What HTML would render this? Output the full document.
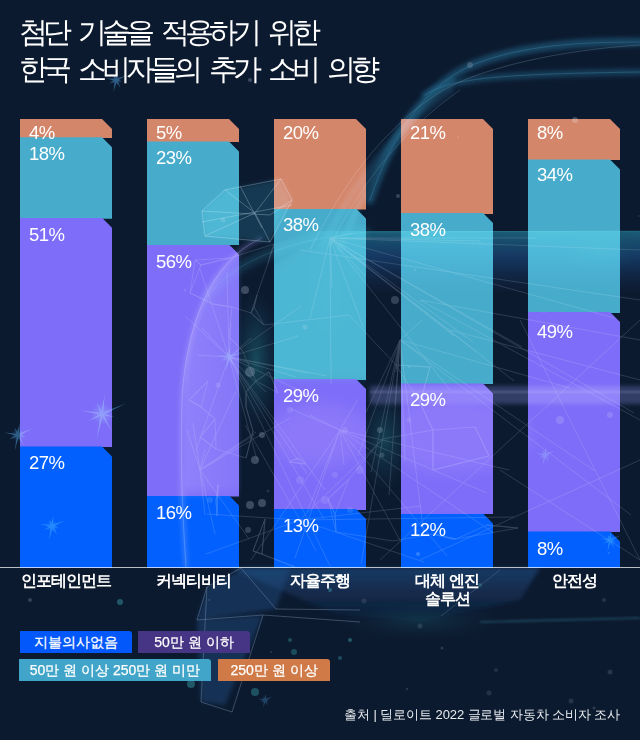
<!DOCTYPE html>
<html><head><meta charset="utf-8">
<style>
html,body{margin:0;padding:0;}
body{width:640px;height:740px;position:relative;overflow:hidden;background:#0c1a2f;font-family:"Liberation Sans",sans-serif;color:#fff;}
.a{position:absolute;}
#bg,#ov{position:absolute;left:0;top:0;width:640px;height:740px;}
#ov{mix-blend-mode:screen;}
.title{left:19px;top:14px;font-size:28.5px;line-height:37px;white-space:nowrap;letter-spacing:-5px;word-spacing:8px;}
.seg{position:absolute;width:92px;clip-path:polygon(0 0,82px 0,92px 10px,92px 100%,0 100%);}
.o{background:#d4866a;}
.t{background:#47abcb;}
.p{background:#7d6df8;}
.b{background:#0260fe;}
.pct{position:absolute;font-size:18.5px;line-height:18px;white-space:nowrap;letter-spacing:-0.5px;}
.cat{position:absolute;width:140px;text-align:center;font-size:16px;font-weight:bold;line-height:18px;letter-spacing:-1px;}
.lg{position:absolute;height:22px;font-size:14px;line-height:22px;text-align:center;border-top-right-radius:3px;white-space:nowrap;-webkit-text-stroke:0.25px #fff;}
.src{position:absolute;right:20px;top:705px;font-size:13px;line-height:20px;color:#e8ecf0;white-space:nowrap;letter-spacing:-0.1px;}
</style></head>
<body>

<div class="a title">첨단 기술을 적용하기 위한<br>한국 소비자들의 추가 소비 의향</div>
<div class="seg o" style="left:20px;top:119px;height:19.2px"></div>
<div class="seg t" style="left:20px;top:137.2px;height:81.5px"></div>
<div class="seg p" style="left:20px;top:217.7px;height:229.7px"></div>
<div class="seg b" style="left:20px;top:446.4px;height:121.6px"></div>
<div class="seg o" style="left:147px;top:119px;height:23.4px"></div>
<div class="seg t" style="left:147px;top:141.4px;height:104.1px"></div>
<div class="seg p" style="left:147px;top:244.5px;height:252.1px"></div>
<div class="seg b" style="left:147px;top:495.6px;height:72.4px"></div>
<div class="seg o" style="left:274px;top:119px;height:90.6px"></div>
<div class="seg t" style="left:274px;top:208.6px;height:171.4px"></div>
<div class="seg p" style="left:274px;top:379.0px;height:131.0px"></div>
<div class="seg b" style="left:274px;top:509.0px;height:59.0px"></div>
<div class="seg o" style="left:401px;top:119px;height:95.1px"></div>
<div class="seg t" style="left:401px;top:213.1px;height:171.3px"></div>
<div class="seg p" style="left:401px;top:383.4px;height:131.1px"></div>
<div class="seg b" style="left:401px;top:513.5px;height:54.5px"></div>
<div class="seg o" style="left:528px;top:119px;height:41.4px"></div>
<div class="seg t" style="left:528px;top:159.4px;height:153.6px"></div>
<div class="seg p" style="left:528px;top:312.0px;height:220.4px"></div>
<div class="seg b" style="left:528px;top:531.4px;height:36.6px"></div>

<div class="pct" style="left:29px;top:124px">4%</div>
<div class="pct" style="left:29px;top:144.75px">18%</div>
<div class="pct" style="left:29px;top:225.8px">51%</div>
<div class="pct" style="left:29px;top:453.5px">27%</div>
<div class="pct" style="left:156px;top:124px">5%</div>
<div class="pct" style="left:156px;top:148.9px">23%</div>
<div class="pct" style="left:156px;top:252.8px">56%</div>
<div class="pct" style="left:156px;top:503.5px">16%</div>
<div class="pct" style="left:283px;top:124px">20%</div>
<div class="pct" style="left:283px;top:216.3px">38%</div>
<div class="pct" style="left:283px;top:386.7px">29%</div>
<div class="pct" style="left:283px;top:516.8px">13%</div>
<div class="pct" style="left:410px;top:124px">21%</div>
<div class="pct" style="left:410px;top:220.8px">38%</div>
<div class="pct" style="left:410px;top:391.0px">29%</div>
<div class="pct" style="left:410px;top:521.3px">12%</div>
<div class="pct" style="left:537px;top:124px">8%</div>
<div class="pct" style="left:537px;top:166.3px">34%</div>
<div class="pct" style="left:537px;top:322.6px">49%</div>
<div class="pct" style="left:537px;top:539.7px">8%</div>

<svg id="ov" width="640" height="740" viewBox="0 0 640 740">
<defs>
<filter id="bl05" x="-20%" y="-20%" width="140%" height="140%"><feGaussianBlur stdDeviation="0.5"/></filter>
<filter id="bl1" x="-20%" y="-50%" width="140%" height="200%"><feGaussianBlur stdDeviation="1"/></filter>
<filter id="bl2" x="-20%" y="-50%" width="140%" height="200%"><feGaussianBlur stdDeviation="2"/></filter>
<filter id="bl4" x="-30%" y="-80%" width="160%" height="260%"><feGaussianBlur stdDeviation="4"/></filter>
<filter id="bl8" x="-50%" y="-50%" width="200%" height="200%"><feGaussianBlur stdDeviation="8"/></filter>
<filter id="bl14" x="-50%" y="-50%" width="200%" height="200%"><feGaussianBlur stdDeviation="14"/></filter>
<linearGradient id="band" x1="0" y1="0" x2="0" y2="1">
 <stop offset="0" stop-color="#104a55" stop-opacity="1"/>
 <stop offset="0.4" stop-color="#0c2e55" stop-opacity="0.75"/>
 <stop offset="1" stop-color="#0a2040" stop-opacity="0"/>
</linearGradient>
<linearGradient id="bandx" x1="0" y1="0" x2="1" y2="0">
 <stop offset="0" stop-color="#fff" stop-opacity="0"/>
 <stop offset="0.22" stop-color="#fff" stop-opacity="1"/>
 <stop offset="1" stop-color="#fff" stop-opacity="1"/>
</linearGradient>
<mask id="mx"><rect x="290" y="0" width="350" height="740" fill="url(#bandx)"/></mask>
<linearGradient id="headg" x1="0" y1="0" x2="1" y2="0">
 <stop offset="0" stop-color="#3a3a80" stop-opacity="0.0"/>
 <stop offset="0.05" stop-color="#40408a" stop-opacity="0.55"/>
 <stop offset="0.48" stop-color="#303a80" stop-opacity="0.3"/>
 <stop offset="0.52" stop-color="#102040" stop-opacity="0"/>
</linearGradient>
<radialGradient id="spk" cx="0.5" cy="0.5" r="0.5">
 <stop offset="0" stop-color="#4a90e0" stop-opacity="0.9"/>
 <stop offset="1" stop-color="#2a60b0" stop-opacity="0"/>
</radialGradient>
<radialGradient id="tealglow" cx="0.5" cy="0.5" r="0.5">
 <stop offset="0" stop-color="#145a5a" stop-opacity="0.8"/>
 <stop offset="1" stop-color="#0a3040" stop-opacity="0"/>
</radialGradient>
</defs>
<g mask="url(#mx)"><rect x="290" y="231" width="350" height="62" fill="url(#band)"/></g>
<path d="M205,300 C230,262 290,238 370,232" fill="none" stroke="#1a6070" stroke-width="6" opacity="0.55" filter="url(#bl4)"/>
<path d="M205,300 C230,262 290,238 370,232 L640,231" fill="none" stroke="#3a8aa0" stroke-width="1" opacity="0.25"/>
<ellipse cx="256" cy="360" rx="24" ry="70" fill="url(#tealglow)" opacity="0.75"/>
<ellipse cx="385" cy="440" rx="26" ry="50" fill="url(#tealglow)" opacity="0.6"/>
<ellipse cx="420" cy="620" rx="80" ry="20" fill="url(#tealglow)" opacity="0.35"/>
<ellipse cx="600" cy="250" rx="50" ry="25" fill="url(#tealglow)" opacity="0.4"/>
<ellipse cx="330" cy="300" rx="40" ry="60" fill="url(#tealglow)" opacity="0.3"/>
<rect x="370" y="386" width="290" height="18" fill="#5a5a98" opacity="0.45" filter="url(#bl2)"/><rect x="370" y="391" width="290" height="2" fill="#9090c8" opacity="0.3" filter="url(#bl1)"/>
<defs><clipPath id="bc"><rect x="20" y="119" width="92" height="448"/><rect x="147" y="119" width="92" height="448"/><rect x="274" y="119" width="92" height="448"/><rect x="401" y="119" width="92" height="448"/><rect x="528" y="119" width="92" height="448"/></clipPath></defs>
<g clip-path="url(#bc)"><ellipse cx="450" cy="435" rx="80" ry="38" fill="#3a2c80" opacity="0.5" filter="url(#bl8)"/><ellipse cx="320" cy="435" rx="50" ry="32" fill="#402c70" opacity="0.45" filter="url(#bl8)"/><path d="M250,290 C280,250 320,238 380,236 L380,379 L250,379 Z" fill="#0c3a48" opacity="0.6" filter="url(#bl4)"/></g>
<g fill="none" stroke-linecap="round">
<path d="M370,200 C395,125 430,85 470,66 C520,45 580,42 640,42" stroke="#164e66" stroke-width="9" opacity="0.6" filter="url(#bl2)"/>
<path d="M370,200 C395,125 430,85 470,66 C520,45 580,42 640,42" stroke="#3a88a0" stroke-width="1.2" opacity="0.3"/>
<path d="M425,95 C450,78 500,74 640,72" stroke="#164e66" stroke-width="7" opacity="0.5" filter="url(#bl2)"/>
<path d="M425,95 C450,78 500,74 640,72" stroke="#3a88a0" stroke-width="1" opacity="0.35"/>
<path d="M340,250 C370,170 400,120 452,80" stroke="#1a5a70" stroke-width="6" opacity="0.4" filter="url(#bl2)"/>
<path d="M310,250 C340,190 380,130 440,92 C480,68 560,50 640,45" stroke="#7a9aaa" stroke-width="1" opacity="0.28"/>
<path d="M330,246 C360,186 400,132 460,90" stroke="#7a9aaa" stroke-width="1" opacity="0.25"/>
<path d="M322,248 C352,188 392,130 450,90" stroke="#134a60" stroke-width="8" opacity="0.35" filter="url(#bl2)"/>
</g>
<defs><linearGradient id="lowg" x1="0" y1="0" x2="0" y2="1"><stop offset="0" stop-color="#1a3c70" stop-opacity="0.6"/><stop offset="1" stop-color="#10284a" stop-opacity="0.1"/></linearGradient></defs>
<path d="M230,568 L335,614 L420,622 L520,600 L540,568 Z" fill="url(#lowg)" filter="url(#bl2)"/>
<path d="M207,587 L245,568 L290,568 L276,609 L197,620 Z M197,620 L263,615 L225,705 L201,702 Z" fill="#123a68" opacity="0.45" filter="url(#bl2)"/>
<g fill="none" stroke="#8a9ab0" stroke-width="0.8" opacity="0.45"><path d="M207,587 L201,702 L232,712 M197,620 L263,615 L360,622 M241,568 L276,609 L360,610 M207,587 L241,568 M197,620 L207,587 M263,615 L232,712"/></g>
<g fill="#2a8a8a"><circle cx="120" cy="602" r="3" opacity="0.5"/><circle cx="191" cy="684" r="4" opacity="0.5"/><circle cx="255" cy="692" r="4" opacity="0.45"/><circle cx="294" cy="652" r="3" opacity="0.4"/><circle cx="237" cy="643" r="3" opacity="0.4"/><circle cx="330" cy="590" r="2" opacity="0.5"/><circle cx="350" cy="640" r="2" opacity="0.5"/><circle cx="290" cy="640" r="2" opacity="0.4"/><circle cx="340" cy="658" r="2" opacity="0.4"/><circle cx="480" cy="585" r="2" opacity="0.4"/></g>
<path d="M480,622 L640,618" stroke="#2a7a8a" stroke-width="2" opacity="0.35" filter="url(#bl1)"/>
<defs><linearGradient id="hv" x1="0" y1="0" x2="0" y2="1"><stop offset="0" stop-color="#fff"/><stop offset="0.75" stop-color="#fff"/><stop offset="0.8" stop-color="#fff" stop-opacity="0"/></linearGradient><mask id="hm"><rect x="0" y="238" width="640" height="329" fill="url(#hv)"/></mask></defs>
<path mask="url(#hm)" d="M262,238 C215,258 186,318 182,400 C180,470 183,520 186,567 L300,567 L300,238 Z" fill="url(#headg)"/>
<path d="M262,238 C215,258 186,318 182,400 C180,470 183,520 186,567" fill="none" stroke="#9a90f0" stroke-width="5" opacity="0.25" filter="url(#bl2)"/>
<path d="M262,238 C215,258 186,318 182,400 C180,470 183,520 186,567" fill="none" stroke="#b0b0f0" stroke-width="1" opacity="0.3"/>
<path d="M202,211 L225,190 L281,179 L292,200 L270,242 L205,236 Z" fill="#175060" opacity="0.45" filter="url(#bl2)"/>
<g fill="none" stroke="#b8d0e0" stroke-width="0.8" opacity="0.4"><path d="M202,211 L225,190 L281,179 L292,200 L270,242 L205,236 Z M202,211 L270,215 L292,200 M225,190 L255,213 L270,242 M281,179 L255,213 L205,236 M240,186 L262,228 M202,222 L292,205"/></g>
<g stroke="#a0aabb" stroke-width="0.7" opacity="0.3">
<line x1="330" y1="238" x2="454" y2="336"/>
<line x1="330" y1="238" x2="614" y2="318"/>
<line x1="330" y1="238" x2="473" y2="342"/>
<line x1="330" y1="238" x2="363" y2="327"/>
<line x1="330" y1="238" x2="514" y2="381"/>
<line x1="330" y1="238" x2="332" y2="288"/>
<line x1="330" y1="238" x2="331" y2="384"/>
<line x1="330" y1="238" x2="536" y2="238"/>
<line x1="330" y1="238" x2="634" y2="413"/>
<line x1="330" y1="238" x2="522" y2="347"/>
<line x1="330" y1="238" x2="354" y2="233"/>
<line x1="330" y1="238" x2="480" y2="241"/>
<line x1="330" y1="238" x2="365" y2="276"/>
<line x1="330" y1="238" x2="310" y2="318"/>
<line x1="330" y1="238" x2="450" y2="390"/>
<line x1="330" y1="238" x2="477" y2="352"/>
<line x1="229" y1="357" x2="257" y2="460"/>
<line x1="229" y1="357" x2="251" y2="338"/>
<line x1="229" y1="357" x2="330" y2="566"/>
<line x1="229" y1="357" x2="307" y2="474"/>
<line x1="229" y1="357" x2="231" y2="323"/>
<line x1="229" y1="357" x2="227" y2="272"/>
<line x1="229" y1="357" x2="296" y2="377"/>
<line x1="229" y1="357" x2="308" y2="373"/>
<line x1="229" y1="357" x2="324" y2="519"/>
<line x1="229" y1="357" x2="185" y2="316"/>
<line x1="229" y1="357" x2="317" y2="399"/>
<line x1="229" y1="357" x2="327" y2="376"/>
<line x1="229" y1="357" x2="196" y2="450"/>
<line x1="229" y1="357" x2="298" y2="336"/>
<line x1="229" y1="357" x2="198" y2="355"/>
<line x1="229" y1="357" x2="325" y2="490"/>
<line x1="229" y1="357" x2="202" y2="328"/>
<line x1="229" y1="357" x2="200" y2="269"/>
<line x1="229" y1="357" x2="301" y2="306"/>
<line x1="229" y1="357" x2="266" y2="392"/>
<line x1="400" y1="340" x2="389" y2="495"/>
<line x1="400" y1="340" x2="371" y2="472"/>
<line x1="400" y1="340" x2="366" y2="412"/>
<line x1="400" y1="340" x2="396" y2="372"/>
<line x1="400" y1="340" x2="631" y2="515"/>
<line x1="400" y1="340" x2="424" y2="536"/>
<line x1="400" y1="340" x2="395" y2="405"/>
<line x1="400" y1="340" x2="595" y2="471"/>
<line x1="400" y1="340" x2="361" y2="564"/>
<line x1="400" y1="340" x2="396" y2="369"/>
<line x1="400" y1="340" x2="570" y2="388"/>
<line x1="400" y1="340" x2="422" y2="320"/>
<line x1="400" y1="340" x2="358" y2="456"/>
<line x1="400" y1="340" x2="405" y2="461"/>
<line x1="340" y1="430" x2="344" y2="465"/>
<line x1="340" y1="430" x2="509" y2="470"/>
<line x1="340" y1="430" x2="401" y2="542"/>
<line x1="340" y1="430" x2="291" y2="409"/>
<line x1="340" y1="430" x2="494" y2="533"/>
<line x1="340" y1="430" x2="310" y2="415"/>
<line x1="340" y1="430" x2="447" y2="556"/>
<line x1="340" y1="430" x2="295" y2="558"/>
<line x1="340" y1="430" x2="487" y2="493"/>
<line x1="340" y1="430" x2="358" y2="399"/>
<line x1="340" y1="430" x2="251" y2="560"/>
<line x1="340" y1="430" x2="307" y2="512"/>
<line x1="200" y1="470" x2="215" y2="534"/>
<line x1="200" y1="470" x2="254" y2="435"/>
<line x1="200" y1="470" x2="205" y2="515"/>
<line x1="200" y1="470" x2="193" y2="423"/>
<line x1="200" y1="470" x2="249" y2="539"/>
<line x1="200" y1="470" x2="256" y2="432"/>
<line x1="200" y1="470" x2="290" y2="418"/>
<line x1="200" y1="470" x2="187" y2="430"/>
<line x1="200" y1="470" x2="236" y2="391"/>
<line x1="200" y1="470" x2="205" y2="449"/>
<line x1="300" y1="520" x2="383" y2="439"/>
<line x1="300" y1="520" x2="316" y2="551"/>
<line x1="300" y1="520" x2="514" y2="517"/>
<line x1="300" y1="520" x2="421" y2="506"/>
<line x1="300" y1="520" x2="245" y2="425"/>
<line x1="300" y1="520" x2="206" y2="554"/>
<line x1="300" y1="520" x2="424" y2="562"/>
<line x1="300" y1="520" x2="207" y2="514"/>
<line x1="349" y1="479" x2="328" y2="499"/>
<line x1="349" y1="479" x2="335" y2="514"/>
<line x1="295" y1="567" x2="262" y2="554"/>
<line x1="295" y1="567" x2="253" y2="551"/>
<line x1="215" y1="419" x2="201" y2="407"/>
<line x1="215" y1="419" x2="200" y2="437"/>
<line x1="433" y1="534" x2="452" y2="539"/>
<line x1="433" y1="534" x2="456" y2="539"/>
<line x1="433" y1="470" x2="433" y2="430"/>
<line x1="433" y1="470" x2="489" y2="456"/>
<line x1="452" y1="539" x2="456" y2="539"/>
<line x1="452" y1="539" x2="433" y2="534"/>
<line x1="306" y1="464" x2="298" y2="458"/>
<line x1="306" y1="464" x2="289" y2="462"/>
<line x1="487" y1="525" x2="518" y2="528"/>
<line x1="487" y1="525" x2="456" y2="539"/>
<line x1="328" y1="499" x2="335" y2="514"/>
<line x1="328" y1="499" x2="349" y2="479"/>
<line x1="475" y1="427" x2="489" y2="456"/>
<line x1="475" y1="427" x2="433" y2="430"/>
<line x1="396" y1="365" x2="430" y2="367"/>
<line x1="396" y1="365" x2="420" y2="403"/>
<line x1="382" y1="439" x2="433" y2="430"/>
<line x1="382" y1="439" x2="349" y2="479"/>
<line x1="216" y1="449" x2="200" y2="437"/>
<line x1="216" y1="449" x2="215" y2="419"/>
<line x1="518" y1="528" x2="487" y2="525"/>
<line x1="518" y1="528" x2="456" y2="539"/>
<line x1="430" y1="367" x2="396" y2="365"/>
<line x1="430" y1="367" x2="420" y2="403"/>
<line x1="433" y1="430" x2="420" y2="403"/>
<line x1="433" y1="430" x2="433" y2="470"/>
<line x1="335" y1="514" x2="328" y2="499"/>
<line x1="335" y1="514" x2="336" y2="532"/>
<line x1="218" y1="485" x2="216" y2="501"/>
<line x1="218" y1="485" x2="217" y2="516"/>
<line x1="200" y1="437" x2="216" y2="449"/>
<line x1="200" y1="437" x2="215" y2="419"/>
<line x1="349" y1="315" x2="396" y2="365"/>
<line x1="349" y1="315" x2="264" y2="325"/>
<line x1="420" y1="403" x2="433" y2="430"/>
<line x1="420" y1="403" x2="430" y2="367"/>
<line x1="393" y1="541" x2="433" y2="534"/>
<line x1="393" y1="541" x2="336" y2="532"/>
<line x1="274" y1="244" x2="268" y2="263"/>
<line x1="274" y1="244" x2="230" y2="258"/>
<line x1="289" y1="462" x2="298" y2="458"/>
<line x1="289" y1="462" x2="306" y2="464"/>
<line x1="257" y1="295" x2="254" y2="307"/>
<line x1="257" y1="295" x2="251" y2="313"/>
<line x1="489" y1="456" x2="475" y2="427"/>
<line x1="489" y1="456" x2="433" y2="470"/>
<line x1="336" y1="532" x2="335" y2="514"/>
<line x1="336" y1="532" x2="328" y2="499"/>
<line x1="298" y1="458" x2="289" y2="462"/>
<line x1="298" y1="458" x2="306" y2="464"/>
<line x1="256" y1="381" x2="246" y2="392"/>
<line x1="256" y1="381" x2="269" y2="372"/>
<line x1="456" y1="539" x2="452" y2="539"/>
<line x1="456" y1="539" x2="433" y2="534"/>
<line x1="269" y1="372" x2="256" y2="381"/>
<line x1="269" y1="372" x2="278" y2="393"/>
<line x1="242" y1="350" x2="229" y2="337"/>
<line x1="242" y1="350" x2="256" y2="381"/>
<line x1="201" y1="407" x2="189" y2="400"/>
<line x1="201" y1="407" x2="215" y2="419"/>
<line x1="265" y1="519" x2="253" y2="551"/>
<line x1="265" y1="519" x2="262" y2="554"/>
<line x1="253" y1="551" x2="262" y2="554"/>
<line x1="253" y1="551" x2="265" y2="519"/>
<line x1="213" y1="304" x2="232" y2="307"/>
<line x1="213" y1="304" x2="190" y2="293"/>
<line x1="229" y1="337" x2="242" y2="350"/>
<line x1="229" y1="337" x2="232" y2="307"/>
<line x1="208" y1="381" x2="189" y2="400"/>
<line x1="208" y1="381" x2="201" y2="407"/>
<line x1="246" y1="407" x2="246" y2="392"/>
<line x1="246" y1="407" x2="253" y2="431"/>
<line x1="217" y1="516" x2="216" y2="501"/>
<line x1="217" y1="516" x2="218" y2="485"/>
<line x1="278" y1="393" x2="269" y2="372"/>
<line x1="278" y1="393" x2="256" y2="381"/>
<line x1="195" y1="260" x2="201" y2="265"/>
<line x1="195" y1="260" x2="190" y2="293"/>
<line x1="268" y1="263" x2="274" y2="244"/>
<line x1="268" y1="263" x2="257" y2="295"/>
<line x1="253" y1="431" x2="246" y2="407"/>
<line x1="253" y1="431" x2="246" y2="458"/>
<line x1="216" y1="501" x2="217" y2="516"/>
<line x1="216" y1="501" x2="218" y2="485"/>
<line x1="190" y1="293" x2="213" y2="304"/>
<line x1="190" y1="293" x2="201" y2="265"/>
<line x1="230" y1="258" x2="201" y2="265"/>
<line x1="230" y1="258" x2="195" y2="260"/>
<line x1="264" y1="325" x2="251" y2="313"/>
<line x1="264" y1="325" x2="254" y2="307"/>
<line x1="201" y1="265" x2="195" y2="260"/>
<line x1="201" y1="265" x2="230" y2="258"/>
<line x1="246" y1="392" x2="256" y2="381"/>
<line x1="246" y1="392" x2="246" y2="407"/>
<line x1="246" y1="458" x2="253" y2="431"/>
<line x1="246" y1="458" x2="216" y2="449"/>
<line x1="262" y1="554" x2="253" y2="551"/>
<line x1="262" y1="554" x2="265" y2="519"/>
<line x1="251" y1="313" x2="254" y2="307"/>
<line x1="251" y1="313" x2="264" y2="325"/>
<line x1="232" y1="307" x2="213" y2="304"/>
<line x1="232" y1="307" x2="251" y2="313"/>
<line x1="189" y1="400" x2="201" y2="407"/>
<line x1="189" y1="400" x2="208" y2="381"/>
<line x1="254" y1="307" x2="251" y2="313"/>
<line x1="254" y1="307" x2="257" y2="295"/>
<line x1="420" y1="300" x2="640" y2="340"/>
<line x1="420" y1="300" x2="640" y2="420"/>
<line x1="380" y1="560" x2="640" y2="320"/>
<line x1="500" y1="470" x2="640" y2="560"/>
<line x1="300" y1="250" x2="640" y2="300"/>
<line x1="330" y1="238" x2="640" y2="250"/>
<line x1="420" y1="560" x2="640" y2="460"/>
<line x1="441" y1="616" x2="500" y2="570"/>
<line x1="520" y1="320" x2="640" y2="560"/>
<line x1="450" y1="330" x2="640" y2="380"/>
</g>
<g fill="#a8b4c8">
<circle cx="245" cy="290" r="4" opacity="0.3"/>
<circle cx="250" cy="372" r="5" opacity="0.3"/>
<circle cx="262" cy="435" r="3" opacity="0.3"/>
<circle cx="255" cy="460" r="4" opacity="0.3"/>
<circle cx="250" cy="505" r="4" opacity="0.3"/>
<circle cx="262" cy="503" r="4" opacity="0.3"/>
<circle cx="248" cy="530" r="3" opacity="0.25"/>
<circle cx="300" cy="480" r="4" opacity="0.15"/>
<circle cx="335" cy="475" r="3" opacity="0.15"/>
<circle cx="325" cy="500" r="4" opacity="0.15"/>
<circle cx="350" cy="510" r="3" opacity="0.15"/>
<circle cx="290" cy="410" r="3" opacity="0.15"/>
<circle cx="345" cy="430" r="3" opacity="0.15"/>
<circle cx="360" cy="470" r="4" opacity="0.15"/>
<circle cx="210" cy="500" r="3" opacity="0.15"/>
<circle cx="395" cy="300" r="4" opacity="0.25"/>
<circle cx="380" cy="430" r="3" opacity="0.25"/>
<circle cx="560" cy="420" r="4" opacity="0.2"/>
<circle cx="610" cy="415" r="3" opacity="0.2"/>
<circle cx="470" cy="65" r="3" opacity="0.25"/>
<circle cx="575" cy="120" r="3" opacity="0.3"/>
<circle cx="250" cy="80" r="2" opacity="0.3"/>
<circle cx="30" cy="600" r="2" opacity="0.25"/>
<circle cx="250" cy="670" r="3" opacity="0.25"/>
<circle cx="305" cy="327" r="2.5" opacity="0.20"/>
<circle cx="639" cy="216" r="1" opacity="0.13"/>
<circle cx="609" cy="553" r="1" opacity="0.19"/>
<circle cx="271" cy="652" r="1" opacity="0.18"/>
<circle cx="442" cy="648" r="1.5" opacity="0.19"/>
<circle cx="480" cy="243" r="1" opacity="0.15"/>
<circle cx="594" cy="708" r="1.5" opacity="0.21"/>
<circle cx="544" cy="312" r="1" opacity="0.18"/>
<circle cx="218" cy="385" r="2.5" opacity="0.19"/>
<circle cx="307" cy="672" r="1" opacity="0.25"/>
<circle cx="209" cy="600" r="1" opacity="0.21"/>
<circle cx="496" cy="670" r="2" opacity="0.14"/>
<circle cx="418" cy="554" r="2" opacity="0.27"/>
<circle cx="407" cy="689" r="1" opacity="0.24"/>
<circle cx="382" cy="455" r="2.5" opacity="0.22"/>
<circle cx="420" cy="626" r="2.5" opacity="0.16"/>
<circle cx="489" cy="693" r="2.5" opacity="0.15"/>
<circle cx="571" cy="701" r="2.5" opacity="0.16"/>
<circle cx="409" cy="367" r="1" opacity="0.20"/>
<circle cx="458" cy="137" r="1" opacity="0.20"/>
<circle cx="364" cy="601" r="2.5" opacity="0.14"/>
<circle cx="223" cy="220" r="2.5" opacity="0.19"/>
<circle cx="604" cy="600" r="2" opacity="0.16"/>
<circle cx="398" cy="196" r="2" opacity="0.26"/>
<circle cx="610" cy="672" r="2.5" opacity="0.17"/>
<circle cx="268" cy="491" r="1.5" opacity="0.14"/>
<circle cx="538" cy="134" r="1" opacity="0.14"/>
<circle cx="185" cy="290" r="1.5" opacity="0.16"/>
<circle cx="409" cy="420" r="2.5" opacity="0.14"/>
<circle cx="415" cy="270" r="1" opacity="0.23"/>
</g>
<g opacity="0.55"><circle cx="102" cy="414" r="11.700000000000001" fill="url(#spk)"/><g fill="#4a98d8" filter="url(#bl05)"><path d="M101.7,415.1 L114.6,417.2 L102.3,412.9 Z"/><path d="M101.0,414.5 L111.6,431.0 L103.0,413.5 Z"/><path d="M100.9,413.8 L96.6,439.4 L103.1,414.2 Z"/><path d="M101.5,413.0 L87.5,421.4 L102.5,415.0 Z"/><path d="M102.2,412.9 L79.6,410.2 L101.8,415.1 Z"/><path d="M103.0,413.5 L96.5,402.2 L101.0,414.5 Z"/><path d="M103.1,414.2 L104.7,394.7 L100.9,413.8 Z"/><path d="M102.4,415.0 L125.8,403.6 L101.6,413.0 Z"/></g></g>
<g opacity="0.5"><circle cx="18" cy="435" r="7.2" fill="url(#spk)"/><g fill="#4a98d8" filter="url(#bl05)"><path d="M17.7,436.1 L25.8,437.0 L18.3,433.9 Z"/><path d="M17.0,435.5 L23.9,445.4 L19.0,434.5 Z"/><path d="M16.9,434.8 L14.7,450.7 L19.1,435.2 Z"/><path d="M17.5,434.0 L9.1,439.6 L18.5,436.0 Z"/><path d="M18.2,433.9 L4.2,432.6 L17.8,436.1 Z"/><path d="M19.0,434.5 L14.6,427.8 L17.0,435.5 Z"/><path d="M19.1,435.2 L19.6,423.1 L16.9,434.8 Z"/><path d="M18.4,436.0 L32.7,428.6 L17.6,434.0 Z"/></g></g>
<g opacity="0.45"><circle cx="52" cy="526" r="6.3" fill="url(#spk)"/><g fill="#4a98d8" filter="url(#bl05)"><path d="M51.7,527.1 L58.8,527.7 L52.3,524.9 Z"/><path d="M51.0,526.5 L57.2,535.1 L53.0,525.5 Z"/><path d="M50.9,525.8 L49.1,539.7 L53.1,526.2 Z"/><path d="M51.5,525.0 L44.2,530.0 L52.5,527.0 Z"/><path d="M52.2,524.9 L39.9,523.9 L51.8,527.1 Z"/><path d="M53.0,525.5 L49.0,519.7 L51.0,526.5 Z"/><path d="M53.1,526.2 L53.4,515.6 L50.9,525.8 Z"/><path d="M52.4,527.0 L64.8,520.4 L51.6,525.0 Z"/></g></g>
<g opacity="0.4"><circle cx="229" cy="357" r="6.3" fill="url(#spk)"/><g fill="#4a98d8" filter="url(#bl05)"><path d="M228.7,358.1 L235.8,358.7 L229.3,355.9 Z"/><path d="M228.0,357.5 L234.2,366.1 L230.0,356.5 Z"/><path d="M227.9,356.8 L226.1,370.7 L230.1,357.2 Z"/><path d="M228.5,356.0 L221.2,361.0 L229.5,358.0 Z"/><path d="M229.2,355.9 L216.9,354.9 L228.8,358.1 Z"/><path d="M230.0,356.5 L226.0,350.7 L228.0,357.5 Z"/><path d="M230.1,357.2 L230.4,346.6 L227.9,356.8 Z"/><path d="M229.4,358.0 L241.8,351.4 L228.6,356.0 Z"/></g></g>
<g opacity="0.35"><circle cx="545" cy="455" r="4.5" fill="url(#spk)"/><g fill="#4a98d8" filter="url(#bl05)"><path d="M544.7,456.1 L549.8,456.2 L545.3,453.9 Z"/><path d="M544.0,455.5 L548.7,461.5 L546.0,454.5 Z"/><path d="M543.9,454.8 L542.9,464.8 L546.1,455.2 Z"/><path d="M544.5,454.0 L539.4,457.9 L545.5,456.0 Z"/><path d="M545.2,453.9 L536.4,453.5 L544.8,456.1 Z"/><path d="M546.0,454.5 L542.9,450.5 L544.0,455.5 Z"/><path d="M546.1,455.2 L546.0,447.6 L543.9,454.8 Z"/><path d="M545.4,456.0 L554.2,451.0 L544.6,454.0 Z"/></g></g>
<g opacity="0.4"><circle cx="610" cy="540" r="5.4" fill="url(#spk)"/><g fill="#4a98d8" filter="url(#bl05)"><path d="M609.7,541.1 L615.8,541.5 L610.3,538.9 Z"/><path d="M609.0,540.5 L614.4,547.8 L611.0,539.5 Z"/><path d="M608.9,539.8 L607.5,551.7 L611.1,540.2 Z"/><path d="M609.5,539.0 L603.3,543.4 L610.5,541.0 Z"/><path d="M610.2,538.9 L599.7,538.2 L609.8,541.1 Z"/><path d="M611.0,539.5 L607.5,534.6 L609.0,540.5 Z"/><path d="M611.1,540.2 L611.2,531.1 L608.9,539.8 Z"/><path d="M610.4,541.0 L621.0,535.2 L609.6,539.0 Z"/></g></g>
<g opacity="0.5"><circle cx="116" cy="80" r="5.4" fill="url(#spk)"/><g fill="#4a98d8" filter="url(#bl05)"><path d="M115.7,81.1 L121.8,81.5 L116.3,78.9 Z"/><path d="M115.0,80.5 L120.4,87.8 L117.0,79.5 Z"/><path d="M114.9,79.8 L113.5,91.7 L117.1,80.2 Z"/><path d="M115.5,79.0 L109.3,83.4 L116.5,81.0 Z"/><path d="M116.2,78.9 L105.7,78.2 L115.8,81.1 Z"/><path d="M117.0,79.5 L113.5,74.6 L115.0,80.5 Z"/><path d="M117.1,80.2 L117.2,71.1 L114.9,79.8 Z"/><path d="M116.4,81.0 L127.0,75.2 L115.6,79.0 Z"/></g></g>
<g opacity="0.3"><circle cx="265" cy="700" r="3.6" fill="url(#spk)"/><g fill="#4a98d8" filter="url(#bl05)"><path d="M264.7,701.1 L268.9,701.0 L265.3,698.9 Z"/><path d="M264.0,700.5 L268.0,705.2 L266.0,699.5 Z"/><path d="M263.9,699.8 L263.3,707.8 L266.1,700.2 Z"/><path d="M264.5,699.0 L260.6,702.3 L265.5,701.0 Z"/><path d="M265.2,698.9 L258.1,698.8 L264.8,701.1 Z"/><path d="M266.0,699.5 L263.3,696.4 L264.0,700.5 Z"/><path d="M266.1,700.2 L265.8,694.1 L263.9,699.8 Z"/><path d="M265.4,701.0 L272.3,696.8 L264.6,699.0 Z"/></g></g>
</svg>
<div class="a" style="left:0;top:567px;width:640px;height:1px;background:rgba(255,255,255,0.72)"></div>

<div class="cat" style="left:-4px;top:572px">인포테인먼트</div>
<div class="cat" style="left:123px;top:572px">커넥티비티</div>
<div class="cat" style="left:250px;top:572px">자율주행</div>
<div class="cat" style="left:377px;top:572px">대체 엔진<br>솔루션</div>
<div class="cat" style="left:504px;top:572px">안전성</div>

<div class="lg" style="left:20px;top:631px;width:112px;background:#0258fa">지불의사없음</div>
<div class="lg" style="left:138px;top:631px;width:112px;background:#463585">50만 원 이하</div>
<div class="lg" style="left:19px;top:659px;width:192px;background:#40a5c8">50만 원 이상 250만 원 미만</div>
<div class="lg" style="left:218px;top:659px;width:112px;background:#d07a48">250만 원 이상</div>

<div class="src">출처 | 딜로이트 2022 글로벌 자동차 소비자 조사</div>
</body></html>
